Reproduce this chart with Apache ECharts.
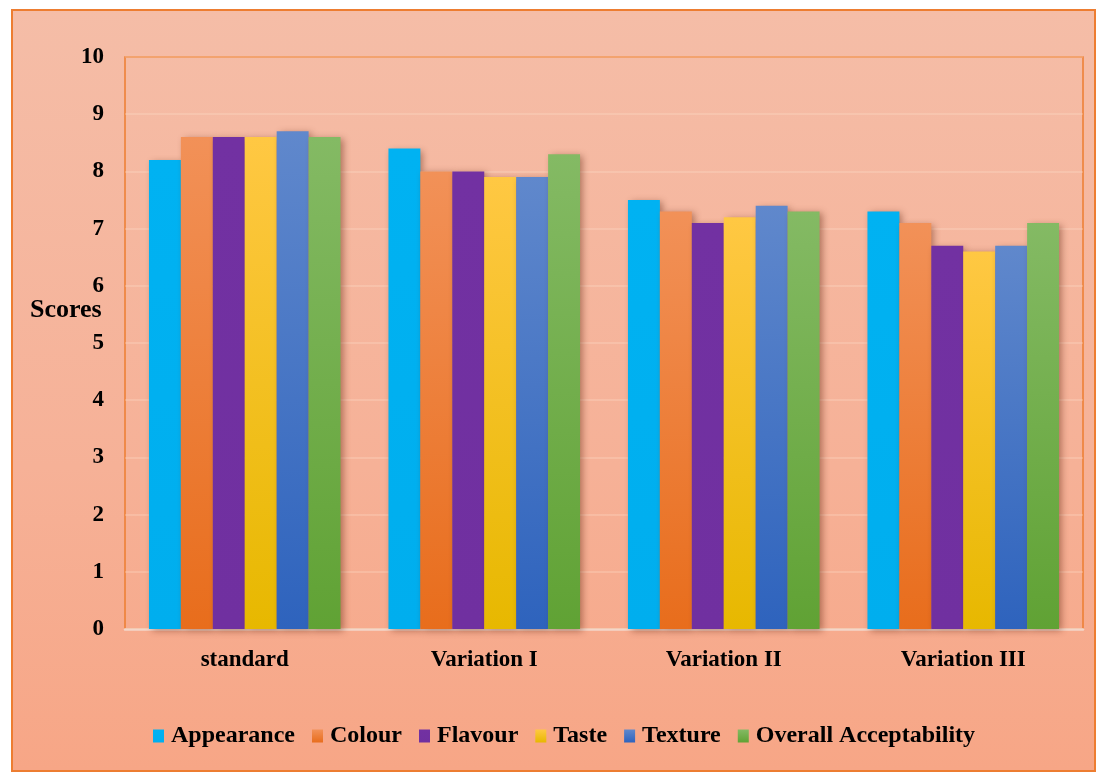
<!DOCTYPE html>
<html>
<head>
<meta charset="utf-8">
<script src="https://cdn.jsdelivr.net/npm/echarts@6/dist/echarts.min.js"></script>
<style>
  html, body { margin: 0; padding: 0; background: #ffffff; }
  #frame {
    position: absolute; left: 11px; top: 9px; width: 1081px; height: 759px;
    border: 2px solid #ED7D31;
    background: linear-gradient(to bottom, #F5BDA7 0%, #F6B197 60%, #F7A686 100%);
  }
  #chart { position: absolute; left: 0; top: 0; width: 1097px; height: 772px; }
</style>
</head>
<body>
<div id="frame"></div>
<div id="chart"></div>
<script>
// Sensory evaluation scores per sample
const categories = ['standard', 'Variation I', 'Variation II', 'Variation III'];
const appearance = [8.2, 8.4, 7.5, 7.3];
const colour     = [8.6, 8.0, 7.3, 7.1];
const flavour    = [8.6, 8.0, 7.1, 6.7];
const taste      = [8.6, 7.9, 7.2, 6.6];
const texture    = [8.7, 7.9, 7.4, 6.7];
const overall    = [8.6, 8.3, 7.3, 7.1];
const yTicks = [0, 1, 2, 3, 4, 5, 6, 7, 8, 9, 10];

const FONT = '"Liberation Serif", "DejaVu Serif", serif';

function grad(top, bottom) {
  return new echarts.graphic.LinearGradient(0, 0, 0, 1, [
    { offset: 0, color: top },
    { offset: 1, color: bottom }
  ]);
}

const seriesDefs = [
  { name: 'Appearance', data: appearance, color: grad('#00B2F2', '#00AEEE') },
  { name: 'Colour', data: colour, color: grad('#F29158', '#E86D1C') },
  { name: 'Flavour', data: flavour, color: grad('#7231A2', '#7030A0') },
  { name: 'Taste', data: taste, color: grad('#FFC843', '#E7B800') },
  { name: 'Texture', data: texture, color: grad('#6088CC', '#2E63BD') },
  { name: 'Overall Acceptability', data: overall, color: grad('#84BA64', '#60A234') }
];

const chart = echarts.init(document.getElementById('chart'), null, { renderer: 'canvas' });

chart.setOption({
  backgroundColor: 'transparent',
  animation: false,
  textStyle: { fontFamily: FONT },
  grid: {
    left: 125, right: 14, top: 57, bottom: 143,
    show: true, borderColor: '#ED7D31', borderWidth: 1.5, backgroundColor: 'transparent'
  },
  legend: {
    bottom: 19,
    left: 148,
    itemWidth: 11,
    itemHeight: 13,
    itemGap: 17,
    icon: 'rect',
    textStyle: { fontFamily: FONT, fontSize: 24, fontWeight: 'bold', color: '#000', padding: [0, 0, 0, 2] },
    data: seriesDefs.map(s => s.name)
  },
  graphic: [{
    type: 'text',
    left: 30,
    top: 297,
    style: { text: 'Scores', fontFamily: FONT, fontSize: 26, fontWeight: 'bold', fill: '#000' }
  }],
  xAxis: {
    type: 'category',
    data: categories,
    axisTick: { show: false },
    axisLine: { lineStyle: { color: '#F3D6C9', width: 2.5 } },
    axisLabel: { fontFamily: FONT, fontSize: 23, fontWeight: 'bold', color: '#000', margin: 20 }
  },
  yAxis: {
    type: 'value',
    min: yTicks[0],
    max: yTicks[yTicks.length - 1],
    interval: 1,
    axisLine: { show: false },
    axisTick: { show: false },
    splitLine: { lineStyle: { color: 'rgba(255,225,210,0.35)', width: 1.5 } },
    axisLabel: { fontFamily: FONT, fontSize: 23, fontWeight: 'bold', color: '#000', margin: 21 }
  },
  series: seriesDefs.map(s => ({
    name: s.name,
    type: 'bar',
    data: s.data,
    barGap: '0%',
    barCategoryGap: '20%',
    itemStyle: {
      color: s.color,
      shadowColor: 'rgba(90,30,10,0.45)',
      shadowBlur: 7,
      shadowOffsetX: 3,
      shadowOffsetY: 2
    }
  }))
});
</script>
</body>
</html>
